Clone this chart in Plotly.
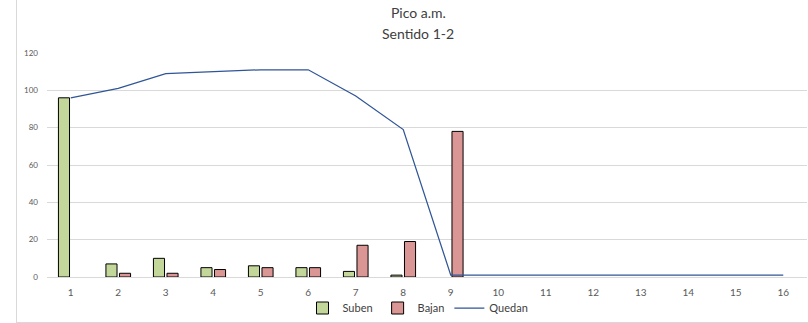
import plotly.graph_objects as go

categories = list(range(1, 17))
suben = [96, 7, 10, 5, 6, 5, 3, 1, 0, 0, 0, 0, 0, 0, 0, 0]
bajan = [0, 2, 2, 4, 5, 5, 17, 19, 78, 0, 0, 0, 0, 0, 0, 0]
quedan = [96, 101, 109, 110, 111, 111, 97, 79, 1, 1, 1, 1, 1, 1, 1, 1]
y_ticks = [0, 20, 40, 60, 80, 100, 120]

W, H = 808, 323
L, R, T, B = 47, 1, 53, 46
pw, ph = W - L - R, H - T - B

def px_x(x):
    return (x - L) / pw

def px_y(y):
    return (H - B - y) / ph

font = "Lato, 'Open Sans', sans-serif"
grid = "#D9D9D9"

def hide_zero(vals):
    return [v if v != 0 else None for v in vals]

fig = go.Figure()
fig.add_trace(go.Bar(x=categories, y=hide_zero(suben), name="Suben",
                     marker=dict(color="#C4D79B", line=dict(color="#000000", width=1))))
fig.add_trace(go.Bar(x=categories, y=hide_zero(bajan), name="Bajan",
                     marker=dict(color="#DA9694", line=dict(color="#000000", width=1))))
fig.add_trace(go.Scatter(x=categories, y=quedan, name="Quedan", mode="lines",
                         line=dict(color="#2F5597", width=1.25)))

fig.update_layout(
    width=W, height=H,
    margin=dict(l=L, r=R, t=T, b=B, pad=0),
    paper_bgcolor="white", plot_bgcolor="white",
    barmode="group", bargap=0.43, bargroupgap=0.18,
    font=dict(family=font, color="#595959"),
    showlegend=True,
    legend=dict(orientation="h", x=px_x(418), y=px_y(308), xanchor="center", yanchor="middle",
                font=dict(size=11, color="#404040"), itemwidth=30, tracegroupgap=0,
                bgcolor="rgba(0,0,0,0)"),
    xaxis=dict(range=[0.5, 16.5], tickmode="array", tickvals=categories,
               ticktext=[str(c) for c in categories], showgrid=False,
               showline=True, linecolor=grid, linewidth=1, ticks="",
               tickfont=dict(size=10, color="#595959"), ticklabelstandoff=6,
               zeroline=False, fixedrange=True),
    yaxis=dict(range=[0, 120], tickmode="array", tickvals=y_ticks,
               showgrid=True, gridcolor=grid, gridwidth=1, zeroline=False,
               showline=False, ticks="", tickfont=dict(size=8, color="#595959"),
               ticklabelstandoff=8, fixedrange=True),
    shapes=[
        dict(type="line", xref="paper", yref="paper", x0=px_x(16.5), x1=px_x(16.5),
             y0=px_y(0), y1=px_y(322.5), line=dict(color=grid, width=1)),
        dict(type="line", xref="paper", yref="paper", x0=px_x(16), x1=px_x(808),
             y0=px_y(322.5), y1=px_y(322.5), line=dict(color=grid, width=1)),
    ],
    annotations=[
        dict(text="Pico a.m.", xref="paper", yref="paper", x=px_x(418), y=px_y(12),
             xanchor="center", yanchor="middle", showarrow=False,
             font=dict(size=14, color="#404040", family=font)),
        dict(text="Sentido 1-2", xref="paper", yref="paper", x=px_x(418), y=px_y(33),
             xanchor="center", yanchor="middle", showarrow=False,
             font=dict(size=14, color="#404040", family=font)),
    ],
)

fig.write_html("out.html", config={"displayModeBar": False},
               post_script="document.body.style.margin='0';document.body.style.padding='0';")
